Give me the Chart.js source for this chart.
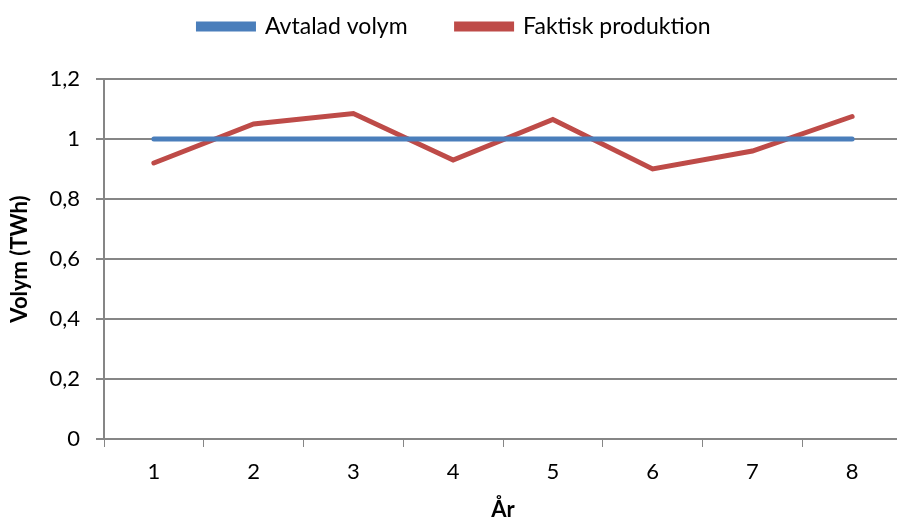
<!DOCTYPE html>
<html>
<head>
<meta charset="utf-8">
<script src="https://cdn.jsdelivr.net/npm/chart.js"></script>
<style>
  html, body { margin: 0; padding: 0; background: #fff; overflow: hidden; }
  /* plot area runs a few pixels past the right edge, like the reference */
  #wrap { width: 902px; height: 523px; }
</style>
</head>
<body>
<div id="wrap"><canvas id="vol-chart"></canvas></div>
<script>
// Data
const years = ['1', '2', '3', '4', '5', '6', '7', '8'];
const avtaladVolym = [1, 1, 1, 1, 1, 1, 1, 1];
const faktiskProduktion = [0.92, 1.05, 1.085, 0.93, 1.065, 0.90, 0.96, 1.075];
const yTicks = [0, 0.2, 0.4, 0.6, 0.8, 1, 1.2];

const FONT = 'Lato, "Open Sans", sans-serif';
const GRID = '#868686';

// Extra room between legend and plot area
const legendSpacer = {
  id: 'legendSpacer',
  beforeUpdate(chart) {
    const legend = chart.legend;
    if (!legend || legend._spaced) return;
    const fit = legend.fit;
    legend.fit = function () {
      fit.call(this);
      this.height += 31;
    };
    legend._spaced = true;
  },
};

function initChart() {
  const ctx = document.getElementById('vol-chart');
  new Chart(ctx.getContext('2d'), {
    type: 'line',
    data: {
      labels: years,
      datasets: [
        {
          label: 'Avtalad volym',
          data: avtaladVolym,
          borderColor: '#4A7EBB',
          backgroundColor: '#4A7EBB',
          borderWidth: 5,
          borderCapStyle: 'round',
          pointRadius: 0,
          tension: 0,
        },
        {
          label: 'Faktisk produktion',
          data: faktiskProduktion,
          borderColor: '#BE4B48',
          backgroundColor: '#BE4B48',
          borderWidth: 5,
          borderCapStyle: 'round',
          pointRadius: 0,
          tension: 0,
        },
      ],
    },
    options: {
      responsive: true,
      maintainAspectRatio: false,
      animation: false,
      layout: { padding: { left: 7, right: 0, top: -34, bottom: 0 } },
      plugins: {
        legend: {
          position: 'top',
          labels: {
            color: '#000',
            font: { family: FONT, size: 23 },
            boxWidth: 55,
            boxHeight: 5,
            padding: 49,
          },
        },
        tooltip: { enabled: false },
      },
      scales: {
        x: {
          offset: true,
          afterFit: (axis) => { axis.height = 84; },
          grid: {
            offset: true,
            drawOnChartArea: false,
            drawTicks: true,
            tickLength: 8,
            color: GRID,
          },
          border: { color: GRID, width: 2 },
          ticks: {
            color: '#000',
            font: { family: FONT, size: 22 },
            padding: 12,
          },
          title: {
            display: true,
            text: 'År',
            color: '#000',
            font: { family: FONT, size: 22, weight: 'bold' },
            padding: { top: 11, bottom: 0 },
          },
        },
        y: {
          min: 0,
          max: 1.2,
          afterFit: (axis) => { axis.width = 97; },
          afterBuildTicks: (axis) => {
            axis.ticks = yTicks.map(v => ({ value: v }));
          },
          grid: {
            color: GRID,
            lineWidth: 2,
            tickLength: 8,
          },
          border: { color: GRID, width: 2 },
          ticks: {
            color: '#000',
            font: { family: FONT, size: 22 },
            padding: 16,
            callback: (v) => String(Number(v.toFixed(1))).replace('.', ','),
          },
          title: {
            display: true,
            text: 'Volym (TWh)',
            color: '#000',
            font: { family: FONT, size: 22, weight: 'bold' },
            padding: { top: 0, bottom: 14 },
          },
        },
      },
    },
    plugins: [legendSpacer],
  });
}

initChart();
</script>
</body>
</html>
